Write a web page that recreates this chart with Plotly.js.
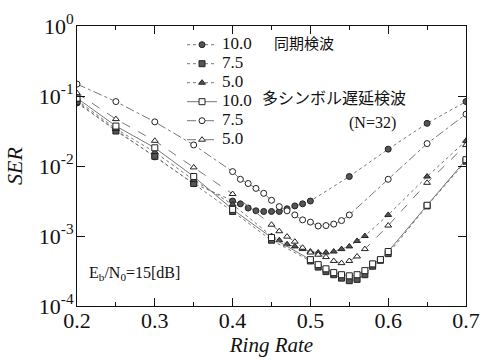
<!DOCTYPE html>
<html><head><meta charset="utf-8">
<script src="https://cdn.plot.ly/plotly-3.0.1.min.js"></script>
<style>body{margin:0;background:#fff}#c{width:482px;height:360px}</style>
</head><body><div id="c"></div>
<script>
// Ring Rate values
const xA = [0.2,0.25,0.3,0.35,0.40,0.41,0.42,0.43,0.44,0.45,0.46,0.47,0.48,0.49,0.50,0.55,0.6,0.65,0.7];
const serA = [0.0794,0.0324,0.0135,0.00562,0.00316,0.00288,0.00251,0.00229,0.00224,0.00224,0.00224,0.00245,0.00269,0.00288,0.00316,0.00708,0.0174,0.0407,0.0832];
const xB = [0.2,0.25,0.3,0.35,0.4,0.45,0.50,0.51,0.52,0.53,0.54,0.55,0.56,0.57,0.58,0.59,0.6,0.65,0.7];
const serB = [0.0832,0.0316,0.0138,0.00562,0.00224,0.00087,0.00044,0.00036,0.00031,0.00028,0.00025,0.00023,0.00024,0.00028,0.00037,0.00045,0.00056,0.00269,0.0117];
const xC = [0.2,0.25,0.3,0.35,0.4,0.45,0.46,0.47,0.48,0.49,0.50,0.51,0.52,0.53,0.54,0.55,0.56,0.57,0.6,0.65,0.7];
const serC = [0.0871,0.0339,0.0158,0.00631,0.00282,0.001,0.00087,0.00076,0.00071,0.00065,0.0006,0.00058,0.00058,0.0006,0.00065,0.00071,0.00085,0.001,0.002,0.00708,0.0229];
const xD = [0.2,0.25,0.3,0.35,0.4,0.45,0.50,0.51,0.52,0.53,0.54,0.55,0.56,0.57,0.58,0.59,0.6,0.65,0.7];
const serD = [0.0933,0.0372,0.0182,0.00708,0.0024,0.00095,0.00046,0.00039,0.00034,0.0003,0.00028,0.00027,0.00028,0.00032,0.0004,0.00046,0.0006,0.00275,0.0123];
const xE = [0.2,0.25,0.3,0.35,0.40,0.41,0.42,0.43,0.44,0.45,0.46,0.47,0.48,0.49,0.50,0.51,0.52,0.53,0.54,0.55,0.6,0.65,0.7];
const serE = [0.148,0.0832,0.0427,0.02,0.00832,0.00646,0.00562,0.00479,0.00407,0.00324,0.00263,0.00229,0.002,0.0017,0.00158,0.00139,0.00141,0.00148,0.00166,0.002,0.00646,0.0209,0.055];
const xF = [0.2,0.25,0.3,0.35,0.4,0.45,0.46,0.47,0.48,0.49,0.50,0.51,0.52,0.53,0.54,0.55,0.56,0.57,0.6,0.65,0.7];
const serF = [0.11,0.0468,0.0229,0.00955,0.00398,0.00145,0.00117,0.00098,0.00083,0.00068,0.00058,0.00054,0.0005,0.00044,0.00041,0.00044,0.00051,0.00065,0.00141,0.00575,0.02];

const legendLabels = ['10.0','7.5','5.0','10.0','7.5','5.0'];
const xTickVals = [0.2,0.3,0.4,0.5,0.6,0.7];
const xTickText = ['0.2','0.3','0.4','0.5','0.6','0.7'];
const yTickVals = [1e-4,1e-3,1e-2,1e-1,1];
const yTickText = ['10<sup>-4</sup>','10<sup>-3</sup>','10<sup>-2</sup>','10<sup>-1</sup>','10<sup>0</sup>'];

const serif = 'Liberation Serif';
const cjk = 'Noto Sans CJK JP';
const lineCol = '#777';
const mk = '#222';

function tr(x, y, name, symbol, fill, dash) {
  return {
    x: x, y: y, type: 'scatter', mode: 'lines+markers',
    name: '<span style="font-size:17px">' + name + '</span>',
    line: {color: lineCol, width: 1, dash: dash},
    marker: {symbol: symbol, size: 6, color: fill, line: {color: mk, width: 1}}
  };
}

const data = [
  tr(xA, serA, legendLabels[0], 'circle', '#555', 'dot'),
  tr(xB, serB, legendLabels[1], 'square', '#555', 'dot'),
  tr(xC, serC, legendLabels[2], 'triangle-up', '#555', 'dot'),
  tr(xD, serD, legendLabels[3], 'square', '#fff', 'solid'),
  tr(xE, serE, legendLabels[4], 'circle', '#fff', 'dashdot'),
  tr(xF, serF, legendLabels[5], 'triangle-up', '#fff', 'dash')
];

const layout = {
  width: 482, height: 360,
  margin: {l: 77, r: 16, t: 26, b: 54},
  paper_bgcolor: '#fff', plot_bgcolor: '#fff',
  font: {family: serif, color: '#111', size: 21},
  showlegend: true,
  legend: {x: 0.27, y: 0.985, xanchor: 'left', yanchor: 'top', bgcolor: 'rgba(0,0,0,0)',
           font: {family: serif, size: 11, color: '#111'}, itemwidth: 30, tracegroupgap: 0},
  xaxis: {
    range: [0.2, 0.7], tickvals: xTickVals, ticktext: xTickText,
    ticks: 'inside', ticklen: 8, tickcolor: '#111', mirror: 'ticks',
    showline: true, linecolor: '#111', linewidth: 1, showgrid: false, zeroline: false,
    tickfont: {family: serif, size: 22}, ticklabelstandoff: -5,
    minor: {tickvals: [0.25,0.35,0.45,0.55,0.65], ticks: 'inside', ticklen: 4, tickcolor: '#111', showgrid: false},
    title: {text: '<i>Ring Rate</i>', font: {family: serif, size: 21}, standoff: 2}
  },
  yaxis: {
    type: 'log', range: [-4, 0], tickvals: yTickVals, ticktext: yTickText,
    ticks: 'inside', ticklen: 8, tickcolor: '#111', mirror: 'ticks',
    showline: true, linecolor: '#111', linewidth: 1, showgrid: false, zeroline: false,
    tickfont: {family: serif, size: 22}, ticklabelstandoff: -2,
    title: {text: '<i>SER</i>', font: {family: serif, size: 22}, standoff: 10}
  },
  annotations: [
    {xref: 'paper', yref: 'paper', x: 0.50, y: 0.94, xanchor: 'left', yanchor: 'middle', showarrow: false,
     text: '同期検波', font: {family: cjk, size: 15, color: '#111'}},
    {xref: 'paper', yref: 'paper', x: 0.47, y: 0.748, xanchor: 'left', yanchor: 'middle', showarrow: false,
     text: '多シンボル遅延検波', font: {family: cjk, size: 16, color: '#111'}},
    {xref: 'paper', yref: 'paper', x: 0.695, y: 0.652, xanchor: 'left', yanchor: 'middle', showarrow: false,
     text: '(N=32)', font: {family: serif, size: 16, color: '#111'}},
    {xref: 'paper', yref: 'paper', x: 0.025, y: 0.115, xanchor: 'left', yanchor: 'middle', showarrow: false,
     text: 'E<sub>b</sub>/N<sub>0</sub>=15[dB]', font: {family: serif, size: 16, color: '#111'}}
  ]
};

Plotly.newPlot('c', data, layout, {staticPlot: true, displayModeBar: false});
</script></body></html>
